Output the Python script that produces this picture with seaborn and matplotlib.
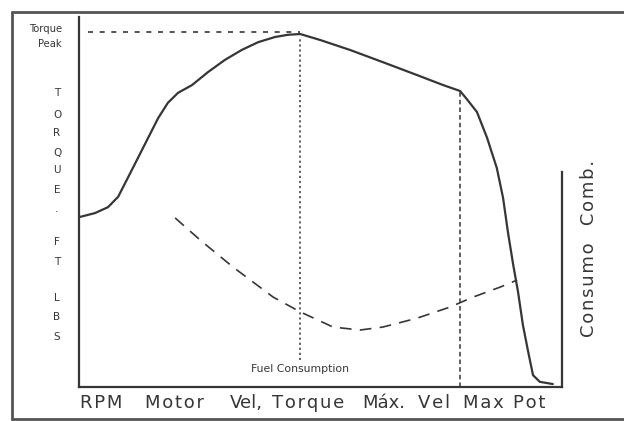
import matplotlib
matplotlib.use("Agg")
import matplotlib.pyplot as plt
from matplotlib.lines import Line2D
import pandas as pd
import seaborn as sns

# Torque curve (RPM on a 0-100 scale, torque in % of axis height)
torque_rpm = [0.0, 3.3, 6.0, 8.1, 10.1, 12.2, 14.3, 16.4, 18.4, 20.5, 23.4, 26.7,
              30.2, 33.7, 37.1, 40.6, 43.3, 45.8, 49.9, 56.1, 62.9, 70.0, 75.4,
              78.9, 80.3, 82.4, 84.5, 86.5, 87.8, 88.8, 89.9, 90.9, 91.9, 93.0,
              94.0, 95.4, 98.1]
torque_val = [45.9, 47.0, 48.6, 51.4, 56.5, 61.9, 67.3, 72.7, 76.8, 79.5, 81.6, 85.1,
              88.4, 91.1, 93.2, 94.6, 95.2, 95.4, 93.8, 91.1, 87.8, 84.3, 81.6,
              80.0, 77.8, 74.3, 67.3, 59.2, 51.1, 41.9, 33.0, 25.7, 16.8, 9.5,
              3.2, 1.4, 0.8]

# Fuel consumption curve
fuel_rpm = [19.9, 25.1, 31.9, 40.2, 45.8, 52.6, 58.2, 62.9, 70.0, 76.8, 81.6, 87.2, 90.7]
fuel_val = [45.7, 39.7, 32.4, 24.3, 20.3, 16.2, 15.4, 16.2, 18.6, 21.6, 24.3, 27.0, 28.9]

# Reference speeds
rpm_torque_max = 45.8
rpm_power_max = 78.9

ylabel_letters = ["T", "O", "R", "Q", "U", "E", "·", "F", "T", "L", "B", "S"]
xlabel_words = ["RPM", "Motor", "Vel,", "Torque", "Máx.", "Vel", "Max", "Pot"]

sns.set_style("white")
plt.rcParams["font.family"] = ["DejaVu Sans"]

W, H = 624, 421
fig = plt.figure(figsize=(W / 100, H / 100), dpi=100)
ax_l, ax_r, ax_b, ax_t = 79, 562, 387, 17
ax = fig.add_axes([ax_l / W, 1 - ax_b / H, (ax_r - ax_l) / W, (ax_b - ax_t) / H])

ink = "#363636"

torque_df = pd.DataFrame({"rpm": torque_rpm, "torque": torque_val})
fuel_df = pd.DataFrame({"rpm": fuel_rpm, "fuel": fuel_val})

sns.lineplot(data=torque_df, x="rpm", y="torque", ax=ax, color=ink, lw=1.6,
             sort=False, estimator=None)
sns.lineplot(data=fuel_df, x="rpm", y="fuel", ax=ax, color=ink, lw=1.2,
             sort=False, estimator=None, linestyle=(0, (7, 5)))

ax.set_xlim(0, 100)
ax.set_ylim(0, 100)

peak = max(torque_val)
power_torque = torque_val[torque_rpm.index(rpm_power_max)]

# Reference lines
ax.plot([1.9, rpm_torque_max], [peak + 0.6, peak + 0.6], color=ink, lw=1.2,
        linestyle=(0, (3, 4)))
ax.plot([rpm_torque_max, rpm_torque_max], [7.3, peak - 1.2], color="#555555",
        lw=1.3, linestyle=(0, (1.2, 1.6)))
ax.plot([rpm_power_max, rpm_power_max], [0, power_torque], color=ink, lw=1.1,
        linestyle=(0, (3, 2)))

# Axes frame
ax.spines["top"].set_visible(False)
for side in ["left", "bottom", "right"]:
    ax.spines[side].set_color(ink)
    ax.spines[side].set_linewidth(1.6)
ax.spines["right"].set_bounds(0, 58.1)
ax.set_xticks([])
ax.set_yticks([])
ax.set_xlabel("")
ax.set_ylabel("")


def px(xp, yp):
    return xp / W, 1 - yp / H


def spaced(word):
    # letter-spacing with hair spaces; words carrying punctuation stay tight
    if any(ch in ",." for ch in word):
        return word
    return "\u200a".join(word)


# Stacked vertical y label
letter_y = [93, 115, 133, 153, 170, 190, 212, 242, 262, 298, 317, 337]
for ch, yp in zip(ylabel_letters, letter_y):
    fig.text(*px(57, yp), ch, ha="center", va="center", fontsize=7.5, color=ink)

# Peak label
fig.text(*px(62, 29), "Torque", ha="right", va="center", fontsize=7.2, color=ink)
fig.text(*px(62, 44), "Peak", ha="right", va="center", fontsize=7.2, color=ink)

# Fuel consumption label
ax.text(rpm_torque_max, 4.8, "Fuel Consumption", ha="center", va="center",
        fontsize=7.8, color=ink)

# Bottom label words
word_x = [80, 145, 230, 272, 362, 418, 463, 513]
for word, xp in zip(xlabel_words, word_x):
    fig.text(*px(xp, 403), spaced(word), ha="left", va="center", fontsize=13,
             color=ink)

# Right axis label
fig.text(*px(589, 248), spaced("Consumo") + "   " + "\u200a".join("Comb."),
         rotation=90, ha="center", va="center", fontsize=13, color=ink)

# Outer border
frame_kw = dict(color="#555555", lw=2.0, transform=fig.transFigure)
fig.add_artist(Line2D([12 / W, 1], [1 - 12 / H, 1 - 12 / H], **frame_kw))
fig.add_artist(Line2D([12 / W, 12 / W], [1 - 12 / H, 1 - 419 / H], **frame_kw))
fig.add_artist(Line2D([12 / W, 1], [1 - 419 / H, 1 - 419 / H], **frame_kw))

fig.savefig("out.png", dpi=100)
